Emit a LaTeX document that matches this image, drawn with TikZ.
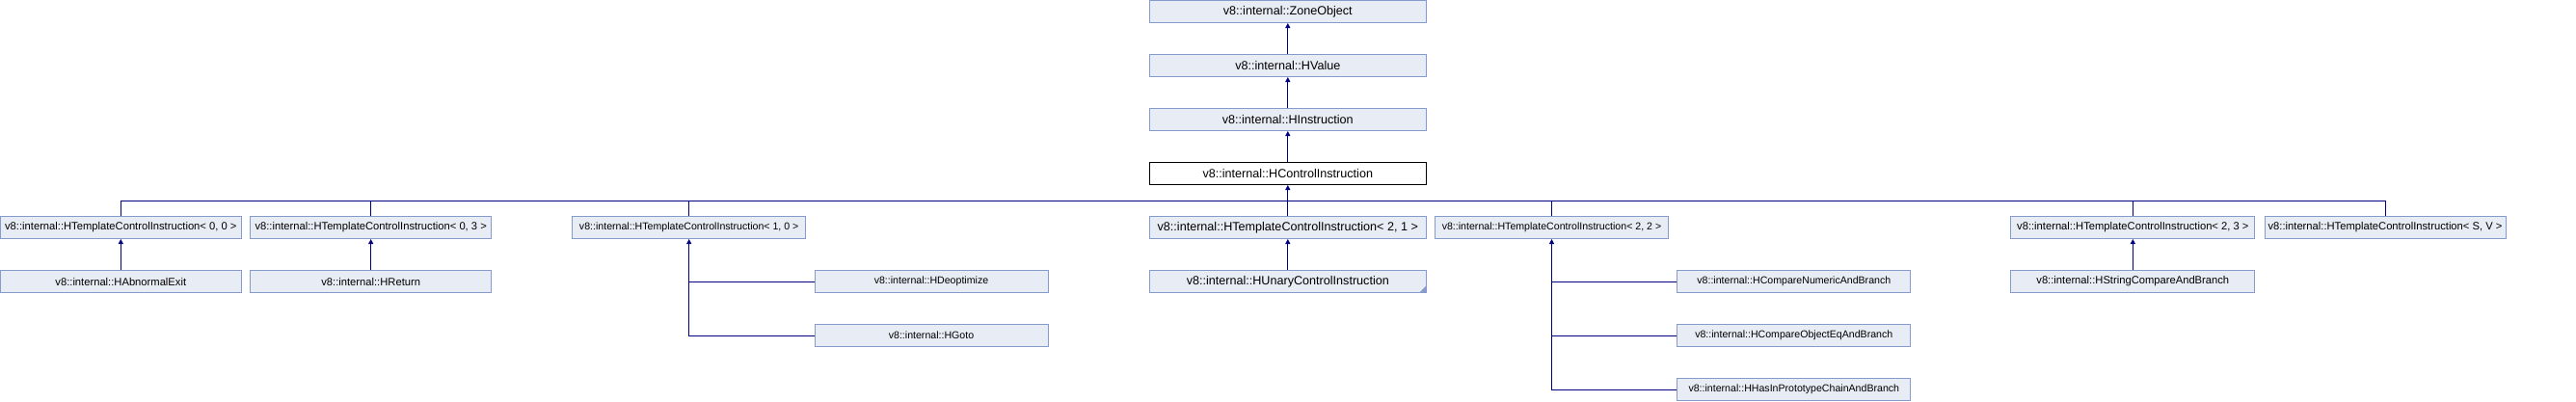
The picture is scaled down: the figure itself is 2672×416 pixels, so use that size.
\documentclass[tikz,border=0pt]{standalone}
\usepackage{fontspec}
\setmainfont{Liberation Sans}
\usetikzlibrary{arrows.meta}

\definecolor{boxfill}{RGB}{232,236,244}
\definecolor{boxline}{RGB}{132,155,204}
\definecolor{edgeblue}{RGB}{0,0,128}

\begin{document}
\begin{tikzpicture}[x=1pt, y=-1pt,
    cls/.style={draw=boxline, fill=boxfill, line width=1pt, minimum height=23pt, inner sep=0pt},
    wide/.style={cls, minimum width=287pt, font=\fontsize{12.6}{14}\selectfont},
    mid/.style={cls, minimum width=#1, font=\fontsize{11.2}{13}\selectfont},
    narrow/.style={cls, minimum width=242pt, font=\fontsize{10.6}{12}\selectfont},
    cur/.style={wide, draw=black, fill=white},
    inh/.style={draw=edgeblue, line width=1pt, -{Triangle[length=5pt,width=5pt]}},
    lnk/.style={draw=edgeblue, line width=1pt}]
        \useasboundingbox (0,0) rectangle (2672,416);

        \node[wide] (zone)   at (1335.8,12)  {v8::internal::ZoneObject};
        \node[wide] (hvalue) at (1335.8,68)  {v8::internal::HValue};
        \node[wide] (hinstr) at (1335.8,124) {v8::internal::HInstruction};
        \node[cur]  (hctrl)  at (1335.8,180) {v8::internal::HControlInstruction};

        \node[mid=250pt] (t00) at (125.3,236)  {v8::internal::HTemplateControlInstruction< 0, 0 >};
        \node[mid=250pt] (t03) at (384.7,236)  {v8::internal::HTemplateControlInstruction< 0, 3 >};
        \node[narrow]    (t10) at (714.7,236)  {v8::internal::HTemplateControlInstruction< 1, 0 >};
        \node[wide]      (t21) at (1335.8,236) {v8::internal::HTemplateControlInstruction< 2, 1 >};
        \node[narrow]    (t22) at (1609.5,236) {v8::internal::HTemplateControlInstruction< 2, 2 >};
        \node[mid=253pt] (t23) at (2212.3,236) {v8::internal::HTemplateControlInstruction< 2, 3 >};
        \node[mid=250pt] (tsv) at (2474,236)   {v8::internal::HTemplateControlInstruction< S, V >};

        \node[mid=250pt] (habexit)   at (125.3,292)  {v8::internal::HAbnormalExit};
        \node[mid=250pt] (hreturn)   at (384.7,292)  {v8::internal::HReturn};
        \node[narrow]    (hdeopt)    at (966,292)    {v8::internal::HDeoptimize};
        \node[narrow]    (hgoto)     at (966,348)    {v8::internal::HGoto};
        \node[wide]      (hunary)    at (1335.8,292) {v8::internal::HUnaryControlInstruction};
        \node[narrow]    (hcmpnum)   at (1860.8,292) {v8::internal::HCompareNumericAndBranch};
        \node[narrow]    (hcmpobj)   at (1860.8,348) {v8::internal::HCompareObjectEqAndBranch};
        \node[narrow]    (hhasproto) at (1860.8,404) {v8::internal::HHasInPrototypeChainAndBranch};
        \node[mid=253pt] (hstrcmp)   at (2212.3,292) {v8::internal::HStringCompareAndBranch};

        \fill[boxline] ([xshift=-0.5pt,yshift=0.5pt]hunary.south east) -- ++(-7,0) -- ++(7,-7) -- cycle;

        \draw[inh] (hvalue.north) -- (zone.south);
        \draw[inh] (hinstr.north) -- (hvalue.south);
        \draw[inh] (hctrl.north) -- (hinstr.south);

        \coordinate (bus) at (1335.8,208);
        \draw[inh] (bus) -- (hctrl.south);
        \draw[lnk] (t00.north |- bus) -- (tsv.north |- bus);
        \foreach \t in {t00,t03,t10,t21,t22,t23,tsv}
            \draw[lnk] (\t.north) -- (\t.north |- bus);

        \draw[inh] (habexit.north) -- (t00.south);
        \draw[inh] (hreturn.north) -- (t03.south);
        \draw[inh] (hunary.north) -- (t21.south);
        \draw[inh] (hstrcmp.north) -- (t23.south);

        \draw[inh] (hgoto.west) -| (t10.south);
        \draw[lnk] (hdeopt.west) -- (hdeopt.west -| t10.south);

        \draw[inh] (hhasproto.west) -| (t22.south);
        \draw[lnk] (hcmpnum.west) -- (hcmpnum.west -| t22.south);
        \draw[lnk] (hcmpobj.west) -- (hcmpobj.west -| t22.south);
    \end{tikzpicture}
\end{document}
